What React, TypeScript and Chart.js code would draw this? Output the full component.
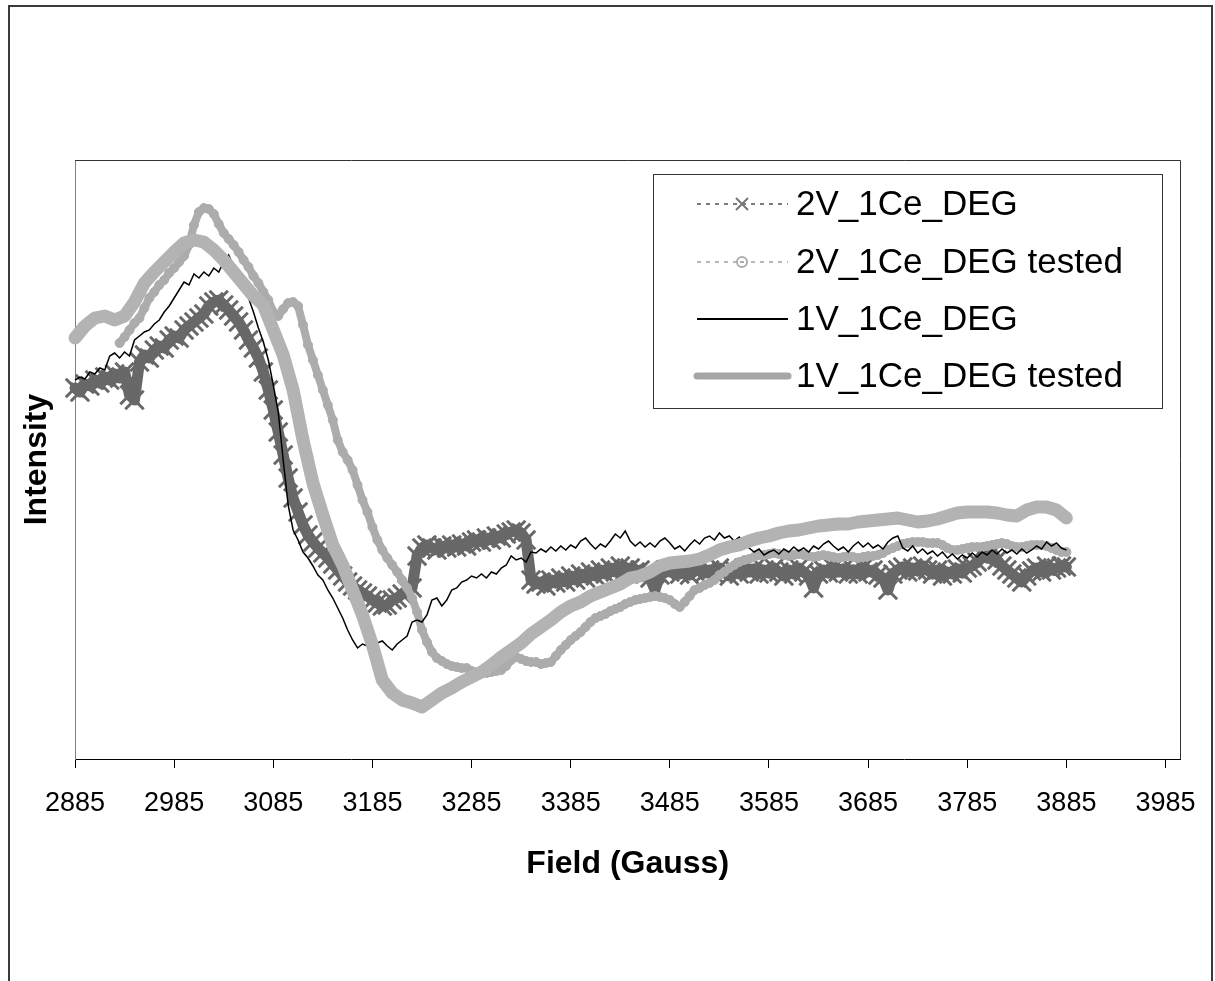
import React, { useEffect, useRef } from 'react';
import { Chart, registerables } from 'chart.js';

Chart.register(...registerables);

const FONT = "'Liberation Sans', Arial, Helvetica, sans-serif";

// Field axis (Gauss)
const FIELD_MIN = 2885;
const FIELD_MAX = 4000;
const X_TICKS = [2885, 2985, 3085, 3185, 3285, 3385, 3485, 3585, 3685, 3785, 3885, 3985];

// Intensity axis (arbitrary units, no tick labels shown)
const Y_MIN = -199;
const Y_MAX = 400;

const SERIES_NAMES = ['2V_1Ce_DEG', '2V_1Ce_DEG tested', '1V_1Ce_DEG', '1V_1Ce_DEG tested'];

// 2V_1Ce_DEG : sampled every 5 G from 2885 G
const V2_DEG_START = 2885;
const V2_DEG_STEP = 5;
const V2_DEG = [
  172, 168, 176, 174, 180, 177, 183, 180, 186, 182,
  188, 165, 160, 198, 205, 202, 210, 214, 212, 220,
  224, 222, 230, 234, 238, 242, 246, 254, 258, 260,
  255, 250, 244, 238, 230, 220, 212, 202, 188, 170,
  150, 128, 105, 82, 62, 48, 35, 25, 18, 12,
  7, 2, -4, -10, -16, -22, -26, -30, -33, -36,
  -40, -43, -46, -45, -40, -38, -34, -30, -28, 4,
  12, 15, 12, 10, 14, 12, 15, 13, 16, 14,
  18, 20, 18, 22, 20, 24, 22, 26, 28, 30,
  27, 20, -20, -24, -22, -26, -20, -23, -18, -22,
  -16, -20, -14, -18, -12, -16, -10, -14, -8, -12,
  -6, -10, -8, -12, -10, -14, -18, -30, -15, -10,
  -12, -8, -14, -10, -15, -11, -8, -13, -10, -14,
  -8, -12, -16, -10, -14, -8, -12, -9, -14, -10,
  -13, -8, -12, -16, -10, -14, -8, -12, -16, -28,
  -14, -10, -13, -8, -12, -9, -14, -10, -14, -8,
  -12, -10, -15, -18, -30, -14, -10, -7, -12, -8,
  -11, -6, -10, -14, -10, -16, -12, -14, -9, -13,
  -8, -6, -2, 5, 2, 8, 0, -6, -10, -14,
  -18, -22, -16, -11, -8, -12, -6, -10, -8, -6,
  -7,
];

// 2V_1Ce_DEG tested : sampled every 5 G from 2930 G
const V2_TESTED_START = 2930;
const V2_TESTED_STEP = 5;
const V2_TESTED = [
  217, 223, 230, 237, 242, 252, 262, 268, 275, 280,
  287, 292, 298, 304, 315, 335, 348, 352, 351, 346,
  336, 327, 321, 315, 308, 300, 293, 284, 277, 268,
  260, 248, 244, 251, 257, 258, 254, 235, 215, 200,
  185, 170, 155, 140, 120, 108, 100, 90, 75, 60,
  48, 33, 20, 10, 2, -5, -12, -20, -28, -38,
  -52, -70, -82, -92, -98, -101, -104, -106, -107, -108,
  -108, -111, -112, -113, -113, -112, -111, -110, -106, -100,
  -97, -99, -101, -102, -102, -104, -103, -102, -96, -90,
  -85, -80, -76, -72, -67, -62, -58, -56, -54, -51,
  -49, -47, -44, -42, -40, -39, -38, -37, -36, -37,
  -38, -40, -44, -47, -42, -36, -30, -28, -25, -23,
  -20, -15, -12, -8, -5, -2, 0, 1, 3, 5,
  5, 6, 7, 6, 5, 4, 5, 6, 5, 4,
  3, 4, 5, 4, 3, 2, 3, 4, 3, 2,
  3, 4, 4, 5, 7, 10, 12, 14, 16, 17,
  18, 18, 18, 17, 17, 17, 15, 12, 10, 10,
  11, 12, 13, 13, 13, 14, 15, 16, 17, 16,
  14, 13, 13, 14, 15, 15, 15, 14, 12, 10,
  8, 8,
];

// 1V_1Ce_DEG : sampled every 5 G from 2885 G
const V1_DEG_START = 2885;
const V1_DEG_STEP = 5;
const V1_DEG = [
  180, 183, 181, 188, 186, 192, 190, 204, 207, 202,
  208, 204, 220, 224, 228, 230, 236, 240, 248, 254,
  262, 270, 278, 275, 286, 282, 288, 284, 292, 288,
  298, 305, 294, 282, 274, 262, 248, 232, 218, 200,
  175, 148, 100, 55, 30, 20, 8, 2, -6, -15,
  -20, -30, -38, -48, -58, -70, -80, -88, -84, -86,
  -80, -83, -81, -86, -90, -84, -80, -76, -62, -60,
  -62, -55, -40, -38, -46, -40, -30, -28, -22, -20,
  -16, -18, -14, -18, -12, -14, -8, -5, 4, 0,
  2, -2, 8, 7, 11, 8, 13, 9, 14, 10,
  15, 12, 19, 22, 16, 11, 16, 13, 19, 26,
  22, 29, 19, 14, 18, 13, 17, 13, 19, 22,
  17, 11, 14, 9, 15, 20, 16, 22, 24, 20,
  27, 22, 24, 19, 23, 17, 12, 8, 11, 5,
  8, 10, 6, 11, 8, 13, 9, 12, 8, 14,
  11, 16, 19, 14, 10, 13, 8, 14, 18, 13,
  17, 12, 15, 11, 18, 22, 24, 12, 9, 14,
  7, 11, 6, 9, 4, 8, 2, 6, 1, 5,
  2, 7, 3, 8, 5, 10, 6, 11, 7, 10,
  6, 11, 7, 10, 14, 11, 18, 14, 17, 12,
  10,
];

// 1V_1Ce_DEG tested : sampled every 10 G from 2885 G
const V1_TESTED_START = 2885;
const V1_TESTED_STEP = 10;
const V1_TESTED = [
  222, 234, 242, 244, 240, 244, 258, 277, 288, 298,
  308, 317, 320, 318, 310, 300, 288, 276, 264, 255,
  230, 205, 170, 120, 77, 45, 15, -5, -30, -55,
  -85, -120, -133, -140, -143, -147, -140, -133, -128, -122,
  -117, -112, -105, -97, -90, -83, -74, -67, -60, -52,
  -46, -42, -36, -32, -28, -24, -18, -16, -12, -6,
  -3, -2, -1, 1, 5, 10, 13, 15, 19, 22,
  24, 27, 29, 30, 32, 34, 35, 36, 36, 38,
  39, 40, 41, 42, 40, 38, 39, 41, 44, 47,
  48, 48, 48, 47, 45, 44, 50, 53, 53, 50,
  42,
];

const toPoints = (start: number, step: number, values: number[]) =>
  values.map((v, i) => ({ x: start + i * step, y: v }));

const COLORS = {
  v2: '#686868',
  v2Line: '#7a7a7a',
  v2t: '#acacac',
  v2tLine: '#b8b8b8',
  v1: '#000000',
  v1t: '#b3b3b3',
};

const framePlugin = {
  id: 'plotFrame',
  afterDraw(chart: any) {
    const { ctx, chartArea: a } = chart;
    ctx.save();
    ctx.strokeStyle = '#333333';
    ctx.lineWidth = 1;
    ctx.beginPath();
    ctx.moveTo(a.left, Math.round(a.top) + 0.5);
    ctx.lineTo(Math.round(a.right) + 0.5, Math.round(a.top) + 0.5);
    ctx.lineTo(Math.round(a.right) + 0.5, a.bottom);
    ctx.stroke();
    ctx.restore();
  },
};

const legendPlugin = {
  id: 'boxLegend',
  afterDraw(chart: any) {
    const { ctx } = chart;
    const box = { left: 653, top: 174, right: 1162, bottom: 408 };
    const rowY = [204, 262, 319, 376];
    const lineX0 = 697;
    const lineX1 = 788;
    const markX = 742;
    const textX = 796;
    ctx.save();
    ctx.fillStyle = '#ffffff';
    ctx.fillRect(box.left, box.top, box.right - box.left, box.bottom - box.top);
    ctx.strokeStyle = '#333333';
    ctx.lineWidth = 1;
    ctx.strokeRect(box.left + 0.5, box.top + 0.5, box.right - box.left, box.bottom - box.top);

    // row 1: dashed dark gray + cross
    let y = rowY[0];
    ctx.strokeStyle = COLORS.v2Line;
    ctx.lineWidth = 2;
    ctx.setLineDash([4, 5]);
    ctx.beginPath();
    ctx.moveTo(lineX0, y);
    ctx.lineTo(lineX1, y);
    ctx.stroke();
    ctx.setLineDash([]);
    ctx.strokeStyle = '#777777';
    ctx.lineWidth = 2;
    ctx.beginPath();
    ctx.moveTo(markX - 6, y - 6);
    ctx.lineTo(markX + 6, y + 6);
    ctx.moveTo(markX - 6, y + 6);
    ctx.lineTo(markX + 6, y - 6);
    ctx.stroke();

    // row 2: dashed light gray + open circle
    y = rowY[1];
    ctx.strokeStyle = COLORS.v2tLine;
    ctx.lineWidth = 2;
    ctx.setLineDash([4, 5]);
    ctx.beginPath();
    ctx.moveTo(lineX0, y);
    ctx.lineTo(lineX1, y);
    ctx.stroke();
    ctx.setLineDash([]);
    ctx.fillStyle = '#ffffff';
    ctx.strokeStyle = COLORS.v2t;
    ctx.lineWidth = 2;
    ctx.beginPath();
    ctx.arc(markX, y, 5, 0, Math.PI * 2);
    ctx.fill();
    ctx.stroke();
    ctx.beginPath();
    ctx.moveTo(markX - 2, y);
    ctx.lineTo(markX + 2, y);
    ctx.stroke();

    // row 3: thin black
    y = rowY[2];
    ctx.strokeStyle = COLORS.v1;
    ctx.lineWidth = 2;
    ctx.beginPath();
    ctx.moveTo(lineX0, y);
    ctx.lineTo(lineX1, y);
    ctx.stroke();

    // row 4: thick gray
    y = rowY[3];
    ctx.strokeStyle = '#a6a6a6';
    ctx.lineWidth = 7;
    ctx.lineCap = 'round';
    ctx.beginPath();
    ctx.moveTo(lineX0, y);
    ctx.lineTo(lineX1, y);
    ctx.stroke();
    ctx.lineCap = 'butt';

    ctx.fillStyle = '#000000';
    ctx.font = `35px ${FONT}`;
    ctx.textBaseline = 'middle';
    ctx.textAlign = 'left';
    SERIES_NAMES.forEach((name, i) => ctx.fillText(name, textX, rowY[i] + 1));
    ctx.restore();
  },
};

export default function App() {
  const canvasRef = useRef<HTMLCanvasElement | null>(null);

  useEffect(() => {
    const canvas = canvasRef.current;
    if (!canvas) return;
    const chart = new Chart(canvas, {
      type: 'line',
      data: {
        datasets: [
          {
            label: SERIES_NAMES[0],
            data: toPoints(V2_DEG_START, V2_DEG_STEP, V2_DEG),
            borderColor: COLORS.v2,
            borderWidth: 11,
            borderJoinStyle: 'round',
            borderCapStyle: 'round',
            pointStyle: 'crossRot',
            pointRadius: 13,
            pointBorderWidth: 3,
            pointBorderColor: COLORS.v2,
            pointBackgroundColor: COLORS.v2,
            fill: false,
            clip: false,
            order: 4,
          },
          {
            label: SERIES_NAMES[1],
            data: toPoints(V2_TESTED_START, V2_TESTED_STEP, V2_TESTED),
            borderColor: COLORS.v2t,
            borderWidth: 8,
            borderJoinStyle: 'round',
            borderCapStyle: 'round',
            pointStyle: 'circle',
            pointRadius: 4.5,
            pointBorderWidth: 1,
            pointBorderColor: COLORS.v2t,
            pointBackgroundColor: COLORS.v2t,
            fill: false,
            clip: false,
            order: 3,
          },
          {
            label: SERIES_NAMES[2],
            data: toPoints(V1_DEG_START, V1_DEG_STEP, V1_DEG),
            borderColor: COLORS.v1,
            borderWidth: 1.5,
            pointRadius: 0,
            fill: false,
            clip: false,
            order: 2,
          },
          {
            label: SERIES_NAMES[3],
            data: toPoints(V1_TESTED_START, V1_TESTED_STEP, V1_TESTED),
            borderColor: COLORS.v1t,
            borderWidth: 13,
            borderCapStyle: 'round',
            borderJoinStyle: 'round',
            pointRadius: 0,
            fill: false,
            clip: false,
            order: 1,
          },
        ],
      },
      options: {
        animation: false,
        responsive: false,
        maintainAspectRatio: false,
        devicePixelRatio: 1,
        events: [],
        layout: { padding: { top: 160, right: 33, left: 0, bottom: 0 } },
        plugins: {
          legend: { display: false },
          tooltip: { enabled: false },
          title: { display: false },
        },
        scales: {
          x: {
            type: 'linear',
            min: FIELD_MIN,
            max: FIELD_MAX,
            afterBuildTicks: (scale: any) => {
              scale.ticks = X_TICKS.map((v) => ({ value: v }));
            },
            afterFit: (scale: any) => {
              scale.height = 222;
            },
            ticks: {
              color: '#000000',
              font: { family: FONT, size: 27 },
              padding: 19,
              maxRotation: 0,
              autoSkip: false,
              callback: (v: any) => String(v),
            },
            grid: {
              drawOnChartArea: false,
              drawTicks: true,
              tickLength: 9,
              color: '#000000',
              lineWidth: 1,
            },
            border: { display: true, color: '#000000', width: 1 },
            title: {
              display: true,
              text: 'Field (Gauss)',
              color: '#000000',
              font: { family: FONT, size: 32, weight: 'bold' },
              padding: { top: 0, bottom: 98 },
            },
          },
          y: {
            type: 'linear',
            min: Y_MIN,
            max: Y_MAX,
            afterFit: (scale: any) => {
              scale.width = 75;
            },
            ticks: { display: false },
            grid: { drawOnChartArea: false, drawTicks: false },
            border: { display: true, color: '#808080', width: 1 },
            title: {
              display: true,
              text: 'Intensity',
              color: '#000000',
              font: { family: FONT, size: 32, weight: 'bold' },
              padding: { top: 18, bottom: 0 },
            },
          },
        },
      },
      plugins: [framePlugin, legendPlugin],
    } as any);
    return () => chart.destroy();
  }, []);

  return (
    <div
      style={{
        position: 'fixed',
        left: 0,
        top: 0,
        width: 1215,
        height: 981,
        overflow: 'hidden',
        background: '#ffffff',
      }}
    >
      <div
        style={{
          position: 'absolute',
          left: 8,
          top: 5,
          width: 1205,
          height: 1010,
          border: '2px solid #3a3a3a',
          boxSizing: 'border-box',
        }}
      />
      <canvas
        ref={canvasRef}
        width={1215}
        height={981}
        style={{ position: 'absolute', left: 0, top: 0, display: 'block' }}
      />
    </div>
  );
}
